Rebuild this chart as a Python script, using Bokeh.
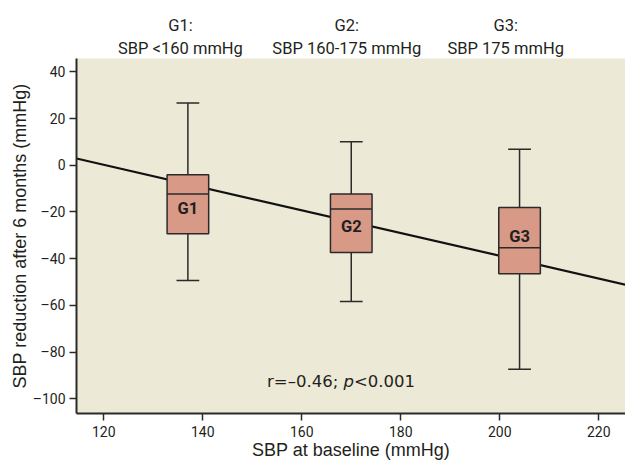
from bokeh.plotting import figure
from bokeh.models import (Label, FixedTicker, Range1d, ColumnDataSource,
                          LinearAxis, CustomJSTickFormatter)
from bokeh.core.properties import value
from bokeh.embed import file_html
from bokeh.resources import INLINE

# ---- data ----
groups = ["G1", "G2", "G3"]
centers = [137.0, 170.0, 204.0]          # SBP at baseline (mmHg)
whisker_hi = [26.7, 10.1, 6.9]
q3 = [-4.0, -12.3, -18.1]
median = [-12.3, -18.7, -35.3]
q1 = [-29.3, -37.4, -46.4]
whisker_lo = [-49.3, -58.3, -87.4]
header_top = ["G1:", "G2:", "G3:"]
header_bottom = ["SBP <160 mmHg", "SBP 160-175 mmHg", "SBP 175 mmHg"]
reg_intercept = 58.66
reg_slope = -0.487
x_ticks = [120, 140, 160, 180, 200, 220]
y_ticks = [-100, -80, -60, -40, -20, 0, 20, 40]

# ---- layout / style constants ----
X0, X1 = 114.5, 225.4
Y0, Y1 = -106.3, 45.74
BOX_HW = 4.2
CAP_HW = 2.3
label_y = [-18.4, -26.4, -30.6]
header_x = [135.5, 169.1, 201.2]
BG = "#ECE9D7"
BOX = "#D89A86"
INK = "#2a2a2a"
TXT = "#231f20"
NARROW = "Roboto"

p = figure(width=625, height=462, output_backend="svg", toolbar_location=None,
           x_range=Range1d(X0, X1), y_range=Range1d(Y0, Y1),
           min_border_left=76, min_border_right=0, min_border_top=58,
           min_border_bottom=49)
p.background_fill_color = BG
p.border_fill_color = "white"
p.outline_line_color = None
p.grid.visible = False

# axes
for ax in (p.xaxis, p.yaxis):
    ax.axis_line_color = INK
    ax.axis_line_width = 2
    ax.major_tick_line_color = INK
    ax.major_tick_line_width = 1.5
    ax.major_tick_in = 0
    ax.minor_tick_line_color = None
    ax.major_label_text_font = NARROW
    ax.major_label_text_color = TXT
    ax.axis_label_text_font = "Liberation Sans"
    ax.axis_label_text_font_style = "normal"
    ax.axis_label_text_color = TXT

p.xaxis.ticker = FixedTicker(ticks=x_ticks)
p.yaxis.ticker = FixedTicker(ticks=y_ticks)
p.yaxis.major_label_overrides = {t: str(t).replace("-", "\u2013") for t in y_ticks}
p.xaxis.major_label_text_font_size = "14px"
p.yaxis.major_label_text_font_size = "14px"
p.xaxis.major_tick_out = 7
p.yaxis.major_tick_out = 7
p.xaxis.major_label_standoff = 5
p.yaxis.major_label_standoff = 4
p.xaxis.axis_label_standoff = 0
p.yaxis.axis_label_standoff = 0
p.xaxis.axis_label_text_font_size = "18px"
p.yaxis.axis_label_text_font_size = "18px"
p.xaxis.axis_label = "SBP at baseline (mmHg)"
p.yaxis.axis_label = "SBP reduction after 6 months (mmHg)"

# group headers above the plot, as label-only axes
for labels in (header_bottom, header_top):
    hax = LinearAxis(ticker=FixedTicker(ticks=header_x),
                     formatter=CustomJSTickFormatter(args=dict(labels=labels),
                                                     code="return labels[index];"))
    hax.axis_line_color = None
    hax.major_tick_line_color = None
    hax.minor_tick_line_color = None
    hax.major_tick_out = 0
    hax.major_tick_in = 0
    hax.major_label_standoff = 1
    hax.major_label_text_font = NARROW
    hax.major_label_text_font_size = "16.5px"
    hax.major_label_text_color = TXT
    p.add_layout(hax, "above")

# regression line
rx = [X0, X1]
ry = [reg_intercept + reg_slope * v for v in rx]
p.line(rx, ry, line_color="#111111", line_width=2.2)

src = ColumnDataSource(dict(
    c=centers, hi=whisker_hi, q3=q3, med=median, q1=q1, lo=whisker_lo,
    left=[c - BOX_HW for c in centers], right=[c + BOX_HW for c in centers],
    cl=[c - CAP_HW for c in centers], cr=[c + CAP_HW for c in centers],
    g=groups, ly=label_y))

# whiskers and caps
p.segment(x0="c", y0="q3", x1="c", y1="hi", source=src, line_color=INK, line_width=1.5)
p.segment(x0="c", y0="q1", x1="c", y1="lo", source=src, line_color=INK, line_width=1.5)
p.segment(x0="cl", y0="hi", x1="cr", y1="hi", source=src, line_color=INK, line_width=1.5)
p.segment(x0="cl", y0="lo", x1="cr", y1="lo", source=src, line_color=INK, line_width=1.5)
# boxes and medians
p.quad(left="left", right="right", top="q3", bottom="q1", source=src,
       fill_color=BOX, line_color=INK, line_width=1.5)
p.segment(x0="left", y0="med", x1="right", y1="med", source=src, line_color=INK, line_width=1.5)

p.text(x="c", y="ly", text="g", source=src, text_font=value(NARROW),
       text_font_style="bold", text_font_size="16.5px", text_color=TXT,
       text_align="center", text_baseline="middle")

# correlation annotation
RX, RY = 153.0, -92.4
common = dict(x=RX, y=RY, text_font="DejaVu Sans", text_font_size="16.5px",
              text_color=TXT, text_align="left", text_baseline="middle")
p.add_layout(Label(text="r=\u20130.46; ", **common))
p.add_layout(Label(text="p", x_offset=76.4, text_font_style="italic", **common))
p.add_layout(Label(text="<0.001", x_offset=86.9, **common))

open("out.html", "w").write(file_html(p, INLINE))
